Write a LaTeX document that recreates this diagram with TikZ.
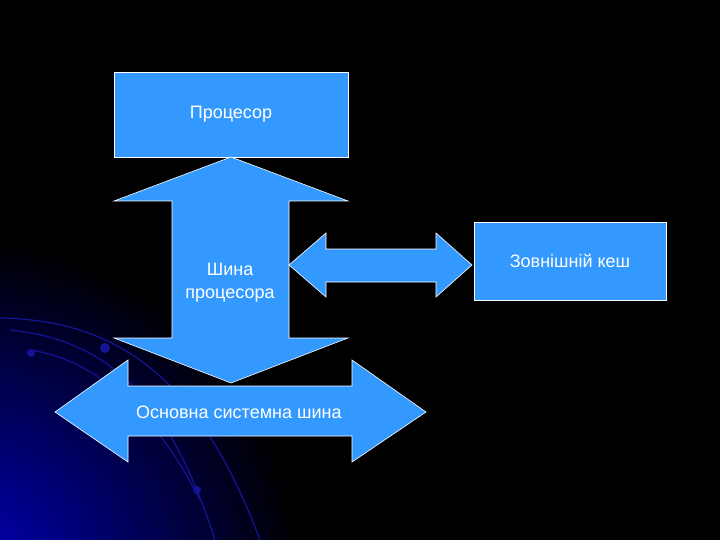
\documentclass[tikz,border=0pt]{standalone}
\usepackage{fontspec}
\setmainfont{Liberation Sans}
\definecolor{boxblue}{RGB}{51,153,255}
\definecolor{decoblue}{RGB}{20,20,150}
\definecolor{glow}{RGB}{0,0,190}
\begin{document}
\begin{tikzpicture}[x=1pt,y=-1pt,
  shp/.style={fill=boxblue,draw=white,line width=0.6pt},
  lbl/.style={text=white,font=\fontsize{18}{23}\selectfont,align=center},
  deco/.style={draw=decoblue,line width=1.2pt}]
\fill[black] (0,0) rectangle (720,540);
\useasboundingbox (0,0) rectangle (720,540);
\begin{scope}
\clip (0,0) rectangle (720,540);
\shade[inner color=glow,outer color=black] (-40,580) circle (340);
\end{scope}
\draw[deco] (0,318) .. controls (120,320) and (200,380) .. (260,540);
\draw[deco] (10,330) .. controls (110,340) and (170,400) .. (215,540);
\draw[deco] (30,350) .. controls (100,360) and (160,420) .. (200,500);
\fill[decoblue] (31,353) circle (4);
\fill[decoblue] (105,348) circle (5);
\fill[decoblue] (197,490) circle (4);
\node[shp,minimum width=234,minimum height=85,inner sep=0,lbl] (cpu) at (231,114.5) {Процесор};
\path[shp] (231,157) -- (348,201) -- (289,201) -- (289,338) -- (348,338) -- (231,383)
  -- (114,338) -- (172,338) -- (172,201) -- (114,201) -- cycle;
\node[lbl] (bus) at (230,283) {Шина\\процесора};
\path[shp] (289,265) -- (326,233) -- (326,249) -- (436,249) -- (436,233) -- (472,265)
  -- (436,297) -- (436,282) -- (326,282) -- (326,297) -- cycle;
\node[shp,minimum width=192,minimum height=78,inner sep=0,lbl] (cache) at (570,261) {Зовнішній кеш};
\path[shp] (55,412) -- (128,360) -- (128,386) -- (352,386) -- (352,360) -- (426,412)
  -- (352,462) -- (352,436) -- (128,436) -- (128,462) -- cycle;
\node[lbl,anchor=west,inner sep=0] (main) at (136,412) {Основна системна шина};
\end{tikzpicture}
\end{document}
